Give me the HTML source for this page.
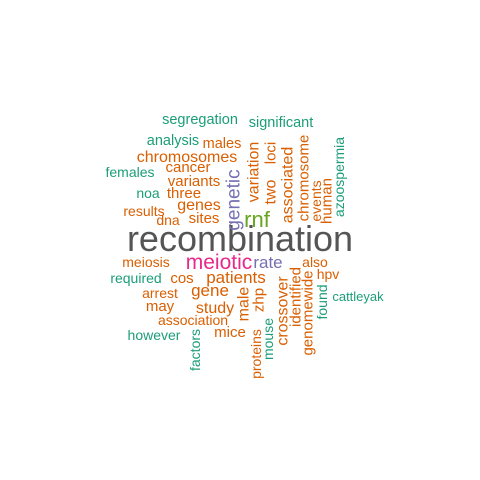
<!DOCTYPE html>
<html><head><meta charset="utf-8"><style>
html,body{margin:0;padding:0;background:#fff;width:480px;height:480px;overflow:hidden}
svg text{font-family:"Liberation Sans",Arial,sans-serif}
</style></head><body>
<svg id="cloud" width="480" height="480" viewBox="0 0 480 480" xmlns="http://www.w3.org/2000/svg">
<rect width="480" height="480" fill="#fff"/>
</svg>
<script>
const O="#D95F02",G="#1B9E77",P="#7570B3",K="#E7298A",L="#66A61E",Y="#555555";
// word, x, y, size, color, vertical
const words=[
["recombination",240,251,36,Y,0],
["rnf",257,227,22,L,0],
["meiotic",219,269,21,K,0],
["rate",268,268,17,P,0],
["segregation",200,124,14.5,G,0],
["significant",281,127,14.5,G,0],
["analysis",173,145,14.5,G,0],
["males",222,148,14.5,O,0],
["chromosomes",187,162,16,O,0],
["cancer",188,172,15,O,0],
["females",130,177,14,G,0],
["variants",194,186,15,O,0],
["noa",148,198,14,G,0],
["three",184,198,15,O,0],
["genes",199,210,16,O,0],
["results",144,216,14,O,0],
["dna",168,225,14,O,0],
["sites",204,223,15,O,0],
["meiosis",146,267,14,O,0],
["required",136,283,14,G,0],
["cos",182,283,15,O,0],
["patients",236,283,17,O,0],
["arrest",160,298,14,O,0],
["gene",210,296,17,O,0],
["may",160,311,15,O,0],
["study",215,313,16,O,0],
["association",193,325,14,O,0],
["however",154,340,14,G,0],
["mice",230,337,15,O,0],
["also",315,267,14,O,0],
["hpv",328,279,14,O,0],
["cattleyak",358,301,13,G,0],
["genetic",233,200,19,P,1],
["variation",253,172,16,O,1],
["two",270,192,16,O,1],
["loci",270,153,15,O,1],
["associated",287,185,16,O,1],
["chromosome",303,178,15,O,1],
["events",316,201,14,O,1],
["human",326,201,15,O,1],
["azoospermia",339,177,14,G,1],
["male",243,304,16,O,1],
["zhp",258,300,15,O,1],
["crossover",282,311,16,O,1],
["identified",295,297,15,O,1],
["genomewide",307,313,15,O,1],
["found",322,302,14,G,1],
["mouse",268,339,14,G,1],
["proteins",256,354,14,O,1],
["factors",195,350,14,G,1]
];
const svg=document.getElementById('cloud');
for(const w of words){
  const t=document.createElementNS("http://www.w3.org/2000/svg","text");
  
  
  t.setAttribute('font-size',w[3]);
  t.setAttribute('fill',w[4]);
  t.setAttribute('text-anchor','middle');
  if(w[5]){
    t.setAttribute('x',0);t.setAttribute('y',0);
    t.setAttribute('dy','0.35em');
    t.setAttribute('transform','translate('+w[1]+','+w[2]+') rotate(-90)');
  }else{
    t.setAttribute('x',w[1]);t.setAttribute('y',w[2]);
  }
  t.textContent=w[0];
  svg.appendChild(t);
}
</script>
</body></html>
